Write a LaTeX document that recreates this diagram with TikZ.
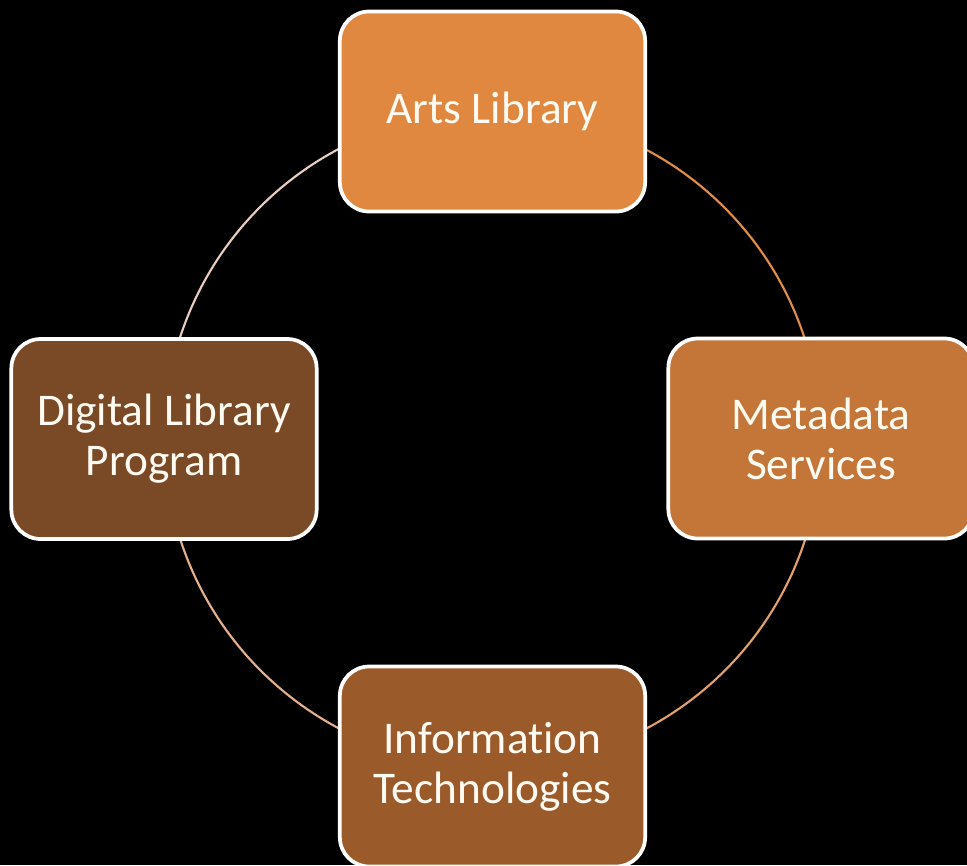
\documentclass[tikz,border=0pt]{standalone}
\usepackage{fontspec}
\setmainfont{Carlito}[Ligatures={NoCommon}]
\usetikzlibrary{backgrounds}
\definecolor{artsC}{RGB}{224,136,64}
\definecolor{metaC}{RGB}{196,118,56}
\definecolor{infoC}{RGB}{155,90,42}
\definecolor{diglC}{RGB}{122,74,38}
\definecolor{arcTR}{RGB}{224,142,69}
\definecolor{arcBR}{RGB}{227,160,106}
\definecolor{arcBL}{RGB}{228,176,140}
\definecolor{arcTL}{RGB}{232,205,192}
\definecolor{txtC}{RGB}{255,250,242}
\tikzset{
  boxnode/.style={draw=white, line width=2.8pt, rounded corners=22pt,
    minimum width=229pt, minimum height=150pt, align=center,
    text=txtC, font=\fontsize{34pt}{37.5pt}\selectfont, inner sep=0pt},
  ringarc/.style={line width=1.6pt}
}
\begin{document}
\begin{tikzpicture}[x=0.75pt,y=-0.75pt]
\useasboundingbox (0,0) rectangle (967,865);
\node[boxnode, fill=artsC] (arts) at (492.5,111.5) {Arts Library};
\node[boxnode, fill=metaC] (meta) at (821,438.5) {Metadata\\Services};
\node[boxnode, fill=diglC] (digl) at (164,439) {Digital Library\\Program};
\node[boxnode, fill=infoC] (info) at (492.5,766.5) {Information\\Technologies};
\begin{scope}[on background layer]
\fill[black] (0,0) rectangle (967,865);
\draw[ringarc, arcTR] (arts.center) arc[start angle=-90, end angle=0, radius=328];
\draw[ringarc, arcBR] (meta.center) arc[start angle=0, end angle=90, radius=328];
\draw[ringarc, arcBL] (info.center) arc[start angle=90, end angle=180, radius=328];
\draw[ringarc, arcTL] (digl.center) arc[start angle=180, end angle=270, radius=328];
\end{scope}
\end{tikzpicture}
\end{document}
